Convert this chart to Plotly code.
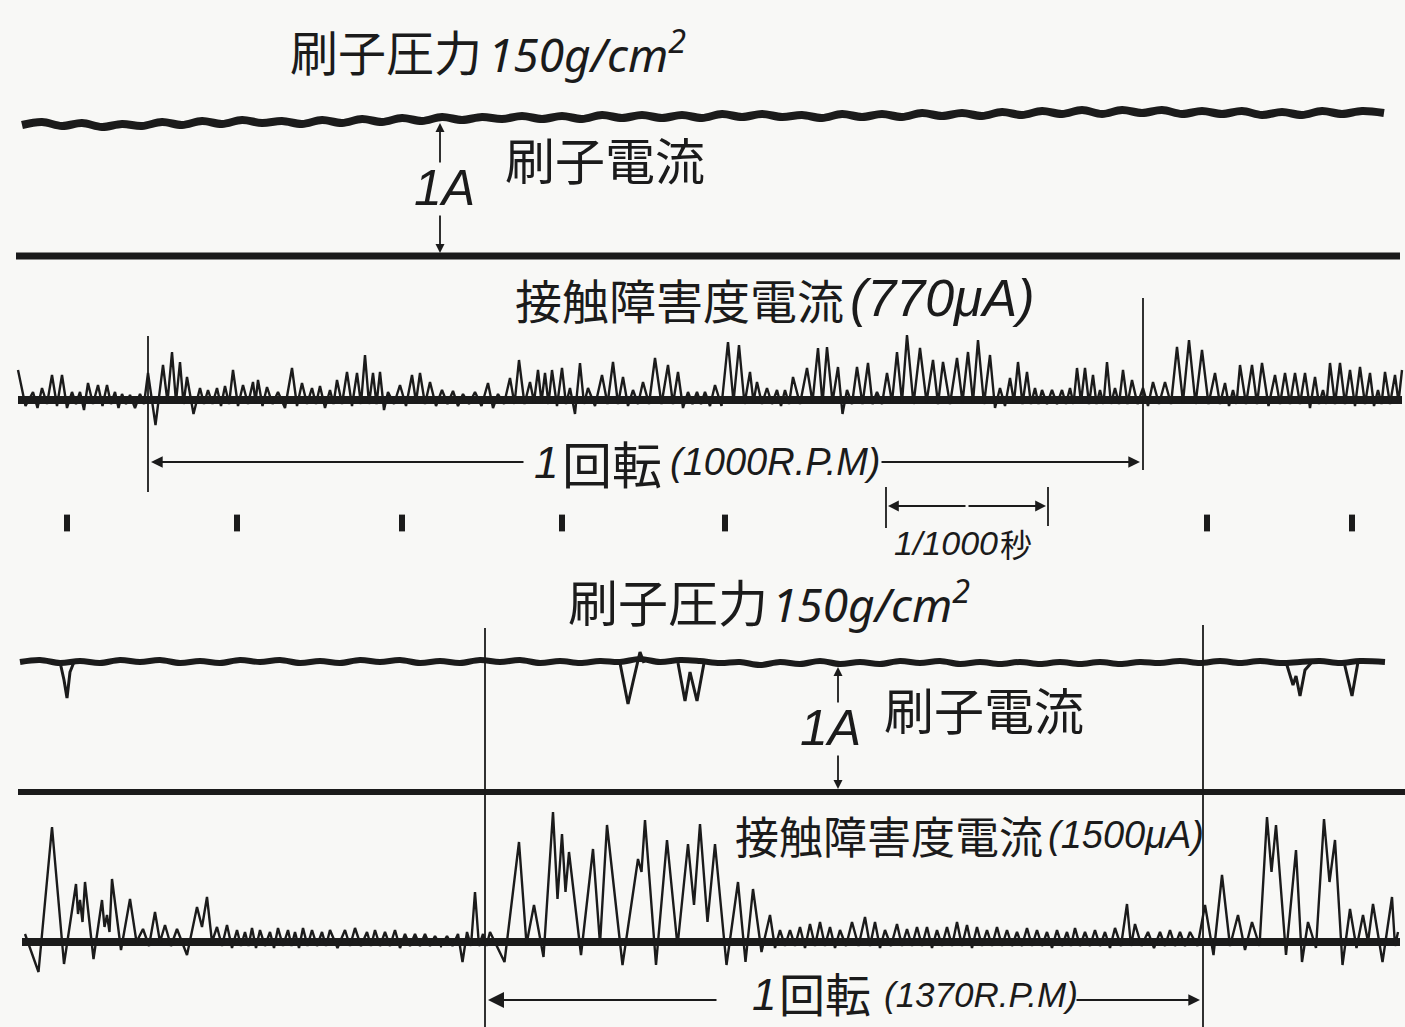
import plotly.graph_objects as go

W, H = 1405, 1027
INK = "#1b1b1b"
PAPER = "#f8f8f6"
CJK = "Noto Sans CJK JP"
SANS = "Noto Sans"
LATIN = "Liberation Sans"

# ---------------- upper record (1000 R.P.M) ----------------
# brush current trace (pen position, px from top)
UP_BRUSH_X = [22, 42, 62, 82, 102, 122, 142, 162, 182, 202, 222, 242, 262, 282, 302, 322, 342, 362,
              382, 402, 422, 442, 462, 482, 502, 522, 542, 562, 582, 602, 622, 642, 662, 682, 702,
              722, 742, 762, 782, 802, 822, 842, 862, 882, 902, 922, 942, 962, 982, 1002, 1022,
              1042, 1062, 1082, 1102, 1122, 1142, 1162, 1182, 1202, 1222, 1242, 1262, 1282, 1302,
              1322, 1342, 1362, 1384]
UP_BRUSH_Y = [125, 122, 126, 123, 127, 124, 126, 122, 125, 121, 124, 120, 123, 121, 124, 120, 123, 119,
              122, 118, 121, 117, 120, 117, 119, 116, 119, 116, 119, 115, 118, 115, 118, 115, 118,
              114, 117, 114, 117, 115, 118, 114, 117, 114, 117, 113, 116, 113, 116, 112, 115,
              111, 114, 110, 114, 110, 113, 110, 114, 111, 114, 111, 115, 112, 115,
              111, 114, 111, 113]

# contact disturbance current: peak positions, peak heights, level reached after each peak
UP_PEAK_X = [18, 33, 42, 52, 62, 72, 80, 88, 98, 107, 115, 122, 130, 140, 148, 163, 172, 180, 187,
             200, 208, 217, 225, 233, 243, 253, 258, 267, 278, 292, 302, 312, 320, 330, 337, 347,
             357, 365, 373, 380, 388, 400, 412, 420, 430, 442, 453, 463, 475, 488, 498, 510, 519,
             530, 538, 545, 552, 562, 570, 580, 588, 602, 613, 623, 633, 643, 655, 668, 678, 688,
             697, 705, 715, 728, 739, 750, 757, 767, 777, 785, 793, 807, 818, 827, 838, 847, 857,
             868, 877, 887, 897, 907, 920, 933, 943, 957, 968, 978, 990, 1000, 1010, 1018, 1027,
             1035, 1042, 1052, 1062, 1070, 1077, 1085, 1093, 1100, 1107, 1115, 1123, 1132, 1143,
             1153, 1165, 1177, 1189, 1202, 1215, 1225, 1233, 1240, 1252, 1262, 1275, 1285, 1295,
             1305, 1315, 1323, 1330, 1340, 1350, 1360, 1370, 1378, 1385, 1395, 1402]
UP_PEAK_A = [30, 8, 12, 25, 25, 8, 8, 17, 15, 15, 8, 6, 5, 6, 27, 35, 48, 38, 23,
             12, 10, 12, 14, 30, 15, 18, 20, 13, 8, 32, 17, 12, 14, 10, 20, 28,
             27, 45, 27, 28, 8, 15, 25, 27, 18, 10, 9, 6, 8, 17, 6, 22, 40,
             18, 30, 27, 30, 32, 12, 37, 12, 25, 38, 23, 10, 18, 42, 35, 28, 8,
             8, 8, 15, 58, 55, 28, 18, 12, 10, 10, 23, 32, 52, 53, 33, 10, 33,
             37, 8, 27, 48, 65, 52, 40, 38, 42, 48, 60, 45, 12, 22, 38, 28,
             12, 10, 10, 10, 12, 32, 32, 25, 10, 38, 12, 30, 20, 12,
             18, 18, 53, 60, 50, 27, 17, 10, 35, 35, 37, 25, 27, 27,
             27, 23, 10, 37, 37, 30, 33, 27, 10, 28, 25, 30]
UP_TROUGH = [-6, -8, -4, -6, -8, -4, -10, -4, -6, -4, -8, -4, -8, -4, -25, -2, -2, -4, -14,
             -4, -4, -6, -4, -6, -4, -2, -6, -4, -8, -6, -4, -4, -8, -4, -4, -6,
             -4, -4, -4, -10, -4, -6, -2, -4, -6, -4, -6, -4, -6, -8, -4, -4, -4,
             -2, -2, -4, -6, -4, -14, -4, -6, -4, -4, -6, -4, -4, -4, -4, -8, -4,
             -4, -6, -6, -2, -4, -2, -4, -4, -6, -4, -4, -2, -4, -2, -14, -4, -4,
             -4, -4, -2, -2, -4, -2, -4, -4, -2, -2, -4, -8, -6, -2, -4, -4,
             -4, -4, -4, -4, -4, -2, -4, -4, -4, -4, -4, -4, -4, -6,
             -4, -4, -2, -4, -4, -4, -6, -4, -4, -4, -6, -4, -4, -4,
             -8, -4, -4, -4, -4, -6, -4, -6, -4, -4, -2]
UP_TIME_MARKS = [67, 237, 402, 562, 725, 1207, 1352]

# ---------------- lower record (1370 R.P.M) ----------------
LO_BRUSH_X = [20, 40, 60, 80, 100, 120, 140, 160, 180, 200, 220, 240, 260, 280, 300, 320, 340, 360,
              380, 400, 420, 440, 460, 480, 500, 520, 540, 560, 580, 600, 620, 640, 660, 680, 700,
              720, 740, 760, 780, 800, 820, 840, 860, 880, 900, 920, 940, 960, 980, 1000, 1020,
              1040, 1060, 1080, 1100, 1120, 1140, 1160, 1180, 1200, 1220, 1240, 1260, 1280, 1300,
              1320, 1340, 1360, 1385]
LO_BRUSH_Y = [662, 660, 663, 661, 663, 660, 662, 660, 663, 661, 663, 660, 662, 660, 663, 661, 663, 660,
              662, 660, 663, 661, 663, 660, 662, 660, 663, 661, 663, 661, 662, 659, 662, 660, 661,
              663, 662, 665, 662, 664, 661, 664, 662, 664, 661, 663, 661, 664, 662, 664, 662,
              664, 662, 664, 662, 664, 662, 663, 661, 663, 661, 663, 661, 663, 662,
              661, 663, 661, 662]
# downward excursions of the brush current (each list is one excursion)
LO_DIPS_X = [[60, 64, 67, 70, 74], [620, 628, 633, 640, 644], [678, 685, 690, 697, 704],
             [1286, 1293, 1296, 1300, 1305, 1312], [1344, 1352, 1358]]
LO_DIPS_Y = [[662, 680, 698, 672, 662], [663, 704, 682, 652, 663], [663, 701, 672, 701, 663],
             [662, 685, 676, 696, 670, 662], [662, 696, 662]]

LO_PEAK_X = [25, 52, 76, 80, 85, 102, 107, 112, 130, 143, 155, 165, 177, 197, 207, 217, 227, 237,
             245, 252, 260, 270, 278, 288, 295, 303, 312, 322, 330, 345, 355, 367, 375, 385, 395,
             405, 415, 425, 435, 447, 458, 467, 475, 483, 490, 519, 534, 553, 562, 569, 593, 607,
             638, 645, 667, 688, 700, 715, 738, 753, 770, 780, 790, 800, 810, 820, 830, 840, 852,
             865, 875, 885, 897, 907, 917, 927, 937, 947, 957, 967, 977, 987, 997, 1007, 1017,
             1027, 1037, 1047, 1057, 1067, 1075, 1085, 1095, 1105, 1115, 1127, 1135, 1148, 1160,
             1170, 1180, 1190, 1205, 1222, 1238, 1252, 1267, 1276, 1296, 1308, 1324, 1335, 1350,
             1363, 1373, 1392, 1398]
LO_PEAK_A = [8, 115, 58, 42, 60, 42, 27, 63, 43, 13, 30, 17, 13, 35, 45, 15, 17, 12,
             10, 14, 12, 10, 14, 12, 10, 14, 12, 10, 12, 12, 14, 10, 12, 10, 12,
             8, 8, 8, 6, 6, 8, 10, 50, 8, 10, 100, 37, 130, 108, 90, 93, 117,
             83, 122, 102, 98, 118, 98, 60, 53, 27, 12, 12, 15, 18, 20, 15, 12, 20,
             25, 20, 12, 18, 13, 15, 15, 12, 15, 20, 17, 15, 12, 15, 12, 10,
             14, 12, 10, 12, 10, 14, 10, 12, 10, 14, 38, 18, 10, 10,
             12, 10, 10, 37, 67, 27, 20, 125, 117, 92, 20, 123, 102, 33,
             27, 38, 45, 10]
LO_TROUGH = [-30, -22, 28, 20, -17, 15, 10, -8, 0, -4, 0, -4, -13, 15, 0, -4, -6, -4,
             -4, -6, -4, -6, -4, -4, -6, -4, -4, -4, -6, -4, -4, -4, -4, -4, -6,
             -4, -4, -4, -4, -4, -20, -4, -4, -4, -20, -2, -15, 43, 50, -13, -2, -23,
             70, -23, -4, 37, 20, -23, -20, -10, -6, -4, -4, -6, -4, -4, -6, -4, -4,
             -4, -6, -4, -4, -4, -4, -6, -4, -4, -4, -6, -4, -4, -4, -4, -4,
             -4, -4, -6, -4, -4, -4, -4, -4, -6, -4, -4, -4, -6, -4,
             -4, -4, -4, -13, -4, -8, -4, 70, -13, -20, -6, 60, -23, -6,
             0, -20, -4]

# panel geometry (px from top)
UP_BASE_Y = 256
UP_TRACE_Y = 400
LO_BASE_Y = 792
LO_TRACE_Y = 942


def spike_path(xs, amps, troughs, base):
    """Pen path through each peak, returning to the recorded level between peaks."""
    px, py = [], []
    for i, (x, a) in enumerate(zip(xs, amps)):
        px.append(x)
        py.append(base - a)
        if i < len(xs) - 1 and i < len(troughs):
            px.append((x + xs[i + 1]) / 2)
            py.append(base - troughs[i])
    return px, py


fig = go.Figure()


def line(xs, ys, width, color=INK, shape="linear"):
    fig.add_trace(go.Scatter(x=xs, y=ys, mode="lines", hoverinfo="skip",
                             line=dict(color=color, width=width, shape=shape)))


# ---- upper record ----
line(UP_BRUSH_X, UP_BRUSH_Y, 8, shape="spline")
line([16, 1400], [UP_BASE_Y, UP_BASE_Y], 7)
line([18, 1402], [UP_TRACE_Y, UP_TRACE_Y], 8)
ux, uy = spike_path(UP_PEAK_X, UP_PEAK_A, UP_TROUGH, UP_TRACE_Y)
line(ux, uy, 2.4)
line([148, 148], [336, 492], 1.8)
line([1143, 1143], [298, 470], 1.8)
fig.add_trace(go.Scatter(x=UP_TIME_MARKS, y=[523] * len(UP_TIME_MARKS), mode="markers",
                         hoverinfo="skip",
                         marker=dict(symbol="line-ns", size=12, color=INK,
                                     line=dict(color=INK, width=6))))
line([886, 886], [487, 528], 1.8)
line([1048, 1048], [487, 526], 1.8)

# ---- lower record ----
line(LO_BRUSH_X, LO_BRUSH_Y, 6, shape="spline")
for dx, dy in zip(LO_DIPS_X, LO_DIPS_Y):
    line(dx, dy, 3)
line([18, 1405], [LO_BASE_Y, LO_BASE_Y], 6)
line([22, 1400], [LO_TRACE_Y, LO_TRACE_Y], 8)
lx, ly = spike_path(LO_PEAK_X, LO_PEAK_A, LO_TROUGH, LO_TRACE_Y)
line(lx, ly, 2.4)
line([485, 485], [628, 1027], 1.8)
line([1203, 1203], [625, 1027], 1.8)


def arrow(x0, y0, x1, y1, size=1.0, width=1.8, head=2):
    fig.add_annotation(x=x1, y=y1, ax=x0, ay=y0, xref="x", yref="y", axref="x", ayref="y",
                       text="", showarrow=True, arrowhead=head, arrowsize=size,
                       arrowwidth=width, arrowcolor=INK)


def label(x, y, text, size, family=CJK, italic=False):
    if italic:
        text = f"<i>{text}</i>"
    fig.add_annotation(x=x, y=y, xref="x", yref="y", text=text, showarrow=False,
                       xanchor="left", yanchor="middle",
                       font=dict(family=family, size=size, color=INK))


# current-scale arrows
arrow(440, 164, 440, 123)
arrow(440, 214, 440, 253)
arrow(838, 704, 838, 667)
arrow(838, 754, 838, 789)

# revolution arrows
arrow(525, 462, 151, 462, size=1.3)
arrow(880, 462, 1140, 462, size=1.3)
arrow(718, 1000, 488, 1000, size=1.6, width=2)
arrow(1075, 1000, 1200, 1000, size=1.3)

# 1 ms bracket
arrow(967, 506, 888, 506, size=1.2)
arrow(967, 506, 1046, 506, size=1.2)

# ---- texts, upper record ----
label(288, 50, "刷子圧力", 48)
label(486, 52, "150g/cm<sup>2</sup>", 46, SANS, True)
label(503, 158, "刷子電流", 50)
label(412, 188, "1A", 50, LATIN, True)
label(513, 298, "接触障害度電流", 47)
label(848, 298, "(770μA)", 52, LATIN, True)
label(532, 462, "1", 44, LATIN, True)
label(560, 462, "回転", 50)
label(668, 462, "(1000R.P.M)", 38, LATIN, True)
label(892, 543, "1/1000", 34, LATIN, True)
label(998, 543, "秒", 32)

# ---- texts, lower record ----
label(566, 600, "刷子圧力", 50)
label(770, 602, "150g/cm<sup>2</sup>", 46, SANS, True)
label(882, 708, "刷子電流", 50)
label(798, 728, "1A", 50, LATIN, True)
label(733, 835, "接触障害度電流", 44)
label(1046, 835, "(1500μA)", 38, LATIN, True)
label(750, 994, "1", 44, LATIN, True)
label(777, 992, "回転", 46)
label(882, 994, "(1370R.P.M)", 35, LATIN, True)

fig.update_layout(
    width=W, height=H, margin=dict(l=0, r=0, t=0, b=0),
    paper_bgcolor=PAPER, plot_bgcolor=PAPER, showlegend=False,
    xaxis=dict(range=[0, W], visible=False, fixedrange=True),
    yaxis=dict(range=[H, 0], visible=False, fixedrange=True),
)

fig.write_html("out.html")
